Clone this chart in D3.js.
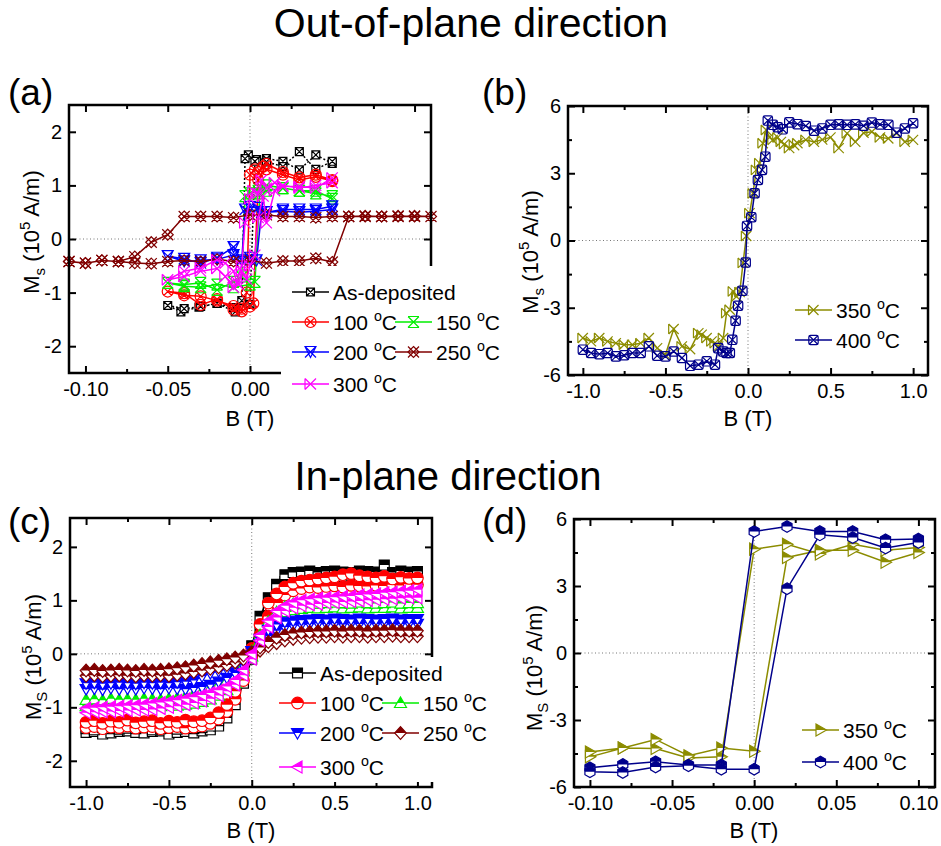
<!DOCTYPE html>
<html>
<head>
<meta charset="UTF-8">
<title>Ms vs B</title>
<script src="https://d3js.org/d3.v7.min.js"></script>
<style>
  body { margin: 0; background: #fff; }
  svg { display: block; background: #fff; font-family: "Liberation Sans", Arial, Helvetica, sans-serif; }
</style>
</head>
<body>
<svg width="941" height="846"></svg>
<script>
// ---------- data : (a) out-of-plane, +-0.1 T ----------
const aDepB = [0.05,0.04,0.03,0.02,0.01,0.004,-0.001,-0.003,-0.005,-0.009,-0.02,-0.031,-0.042,-0.05,-0.04,-0.03,-0.02,-0.01,0.0,0.003,0.01,0.02,0.03,0.04,0.05];
const aDepM = [1.41,1.57,1.29,1.45,1.50,1.48,1.57,1.50,-1.15,-1.36,-1.20,-1.27,-1.36,-1.24,-1.30,-1.26,-1.20,-1.28,-1.22,1.45,1.44,1.35,1.63,1.30,1.45];
const a100B = [0.05,0.04,0.03,0.02,0.01,0.008,0.005,0.003,0.0,-0.002,-0.005,-0.01,-0.02,-0.03,-0.04,-0.05,-0.04,-0.03,-0.02,-0.01,-0.005,0.0,0.002,0.005,0.01,0.02,0.03,0.04,0.05];
const a100M = [1.08,1.16,1.10,1.20,1.30,1.35,1.25,1.30,1.20,-1.00,-1.30,-1.32,-1.12,-1.23,-1.01,-0.98,-1.05,-1.07,-1.15,-1.25,-1.35,-1.26,-1.20,1.10,1.40,1.25,1.15,1.20,1.10];
const a150B = [0.05,0.04,0.03,0.02,0.01,0.005,0.0,-0.003,-0.005,-0.01,-0.02,-0.03,-0.04,-0.05,-0.04,-0.03,-0.02,-0.01,0.0,0.003,0.006,0.01,0.02,0.03,0.04,0.05];
const a150M = [0.80,0.85,0.90,0.95,1.00,0.90,0.85,0.80,-0.70,-0.80,-0.95,-0.82,-0.85,-0.82,-0.88,-0.90,-0.85,-0.90,-0.85,-0.80,0.85,0.90,0.95,0.90,0.90,0.75];
const a200B = [0.05,0.04,0.03,0.02,0.01,0.005,0.0,-0.003,-0.005,-0.01,-0.02,-0.03,-0.04,-0.05,-0.04,-0.03,-0.02,-0.01,0.0,0.004,0.007,0.01,0.02,0.03,0.04,0.05];
const a200M = [0.61,0.55,0.55,0.55,0.50,0.58,0.60,0.55,-0.40,-0.15,-0.35,-0.45,-0.37,-0.32,-0.42,-0.40,-0.38,-0.30,-0.35,-0.40,0.50,0.50,0.52,0.50,0.52,0.55];
const a250B = [-0.11,-0.10,-0.09,-0.08,-0.07,-0.06,-0.05,-0.04,-0.03,-0.02,-0.01,0.0,0.01,0.02,0.03,0.04,0.05,0.06,0.07,0.08,0.09,0.10,0.11,
               0.10,0.09,0.08,0.07,0.06,0.05,0.04,0.03,0.02,0.01,0.0,-0.01,-0.02,-0.03,-0.04,-0.05,-0.06,-0.07,-0.08,-0.09,-0.10,-0.11];
const a250M = [-0.42,-0.45,-0.40,-0.42,-0.33,-0.06,0.08,0.42,0.42,0.42,0.40,0.45,0.45,0.42,0.42,0.40,0.42,0.42,0.43,0.42,0.42,0.43,0.42,
               0.42,0.43,0.42,0.42,0.42,-0.43,-0.36,-0.41,-0.41,-0.45,-0.40,-0.42,-0.38,-0.42,-0.40,-0.42,-0.46,-0.45,-0.42,-0.40,-0.45,-0.42];
const a300B = [0.05,0.04,0.03,0.02,0.015,0.01,0.007,0.005,0.002,0.0,-0.003,-0.005,-0.008,-0.01,-0.015,-0.02,-0.03,-0.04,-0.05,
               -0.04,-0.03,-0.02,-0.015,-0.01,-0.007,-0.005,-0.002,0.0,0.003,0.005,0.008,0.01,0.015,0.02,0.03,0.04,0.05];
const a300M = [1.14,0.95,0.98,0.98,1.05,0.95,1.10,0.85,0.90,0.75,0.30,-0.50,-0.80,-0.60,-0.45,-0.39,-0.54,-0.60,-0.76,
               -0.70,-0.60,-0.55,-0.70,-0.90,-0.85,-0.60,-0.75,-0.50,-0.30,0.40,0.80,0.30,0.90,1.00,0.95,1.00,1.05];

// ---------- data : (b) out-of-plane, +-1 T ----------
const b350B = [-1.0,-0.95,-0.9,-0.85,-0.8,-0.75,-0.7,-0.65,-0.6,-0.55,-0.5,-0.45,-0.4,-0.35,-0.3,-0.28,-0.25,-0.22,-0.2,-0.18,-0.15,-0.13,-0.11,-0.09,-0.07,-0.05,-0.03,-0.01,
               0.01,0.03,0.05,0.07,0.09,0.11,0.13,0.15,0.18,0.2,0.22,0.25,0.28,0.3,0.35,0.4,0.45,0.5,0.55,0.6,0.65,0.7,0.75,0.8,0.85,0.9,0.95,1.0];
const b350M = [-4.35,-4.50,-4.35,-4.50,-4.58,-4.65,-4.65,-4.58,-4.35,-4.80,-5.10,-3.95,-4.72,-4.85,-4.13,-4.20,-4.35,-4.50,-4.58,-4.72,-4.35,-3.24,-3.09,-2.27,-2.50,-2.30,-1.00,0.20,
               1.22,2.10,3.15,3.45,4.34,4.93,4.60,4.49,4.60,4.40,4.30,4.12,4.25,4.34,4.49,4.40,4.50,4.60,4.12,4.78,4.40,4.80,4.85,4.60,4.55,4.78,4.40,4.49];
const b400B = [-1.0,-0.95,-0.9,-0.85,-0.8,-0.75,-0.7,-0.65,-0.6,-0.55,-0.5,-0.45,-0.4,-0.35,-0.3,-0.25,-0.2,-0.18,-0.15,-0.13,-0.11,-0.095,-0.075,-0.06,-0.034,-0.014,-0.006,
               0.02,0.04,0.06,0.085,0.105,0.12,0.15,0.18,0.21,0.25,0.3,0.35,0.4,0.45,0.5,0.55,0.6,0.65,0.7,0.75,0.8,0.85,0.9,0.95,1.0];
const b400M = [-4.87,-5.02,-5.07,-5.02,-5.17,-5.12,-5.02,-5.02,-4.72,-5.14,-5.17,-4.95,-5.24,-5.59,-5.54,-5.39,-5.54,-4.80,-4.95,-5.02,-5.02,-4.43,-3.58,-2.91,-2.24,-0.98,0.65,
               1.04,2.11,2.70,3.15,3.74,5.35,5.16,5.05,4.96,5.27,5.19,5.11,4.90,5.00,5.16,5.18,5.16,5.18,5.12,5.26,5.18,5.16,4.81,5.00,5.23];

// ---------- data : (c) in-plane, +-1 T (two branches per sample) ----------
const cB = [-1.0,-0.95,-0.9,-0.85,-0.8,-0.75,-0.7,-0.65,-0.6,-0.55,-0.5,-0.45,-0.4,-0.35,-0.3,-0.25,-0.2,-0.15,-0.1,-0.05,0,
            0.05,0.1,0.15,0.2,0.25,0.3,0.35,0.4,0.45,0.5,0.55,0.6,0.65,0.7,0.75,0.8,0.85,0.9,0.95,1.0];
const cDepUp   = [-1.47,-1.45,-1.50,-1.48,-1.45,-1.44,-1.47,-1.48,-1.45,-1.44,-1.50,-1.47,-1.45,-1.48,-1.44,-1.42,-1.35,-1.20,-0.95,-0.55,-0.10,0.45,0.90,1.15,1.35,1.42,1.45,1.43,1.45,1.46,1.44,1.45,1.47,1.45,1.44,1.46,1.45,1.44,1.46,1.43,1.45];
const cDepDown = [-1.40,-1.42,-1.38,-1.40,-1.41,-1.39,-1.40,-1.38,-1.42,-1.40,-1.39,-1.41,-1.38,-1.40,-1.38,-1.35,-1.25,-1.05,-0.75,-0.35,0.15,0.70,1.05,1.30,1.48,1.52,1.53,1.55,1.52,1.54,1.55,1.53,1.52,1.55,1.54,1.53,1.66,1.52,1.55,1.53,1.54];
const c100Up   = [-1.38,-1.36,-1.40,-1.37,-1.38,-1.35,-1.39,-1.37,-1.36,-1.40,-1.38,-1.36,-1.39,-1.37,-1.35,-1.30,-1.22,-1.08,-0.85,-0.50,-0.05,0.35,0.70,0.95,1.10,1.18,1.22,1.25,1.24,1.26,1.27,1.25,1.28,1.27,1.26,1.28,1.27,1.29,1.28,1.30,1.29];
const c100Down = [-1.28,-1.25,-1.30,-1.26,-1.28,-1.24,-1.29,-1.27,-1.25,-1.30,-1.26,-1.28,-1.24,-1.27,-1.25,-1.20,-1.10,-0.95,-0.70,-0.35,0.10,0.55,0.95,1.12,1.25,1.32,1.36,1.38,1.40,1.42,1.44,1.48,1.50,1.46,1.44,1.42,1.45,1.40,1.43,1.41,1.42];
const c150Up   = [-0.98,-0.97,-0.99,-0.96,-0.98,-0.97,-0.99,-0.96,-0.97,-0.98,-0.96,-0.97,-0.95,-0.93,-0.90,-0.85,-0.78,-0.68,-0.55,-0.33,-0.05,0.25,0.50,0.68,0.78,0.82,0.84,0.86,0.85,0.86,0.87,0.85,0.86,0.87,0.85,0.86,0.86,0.87,0.85,0.86,0.86];
const c150Down = [-0.86,-0.85,-0.87,-0.84,-0.86,-0.85,-0.86,-0.84,-0.85,-0.86,-0.84,-0.83,-0.80,-0.76,-0.70,-0.64,-0.58,-0.50,-0.40,-0.22,0.05,0.35,0.60,0.78,0.88,0.93,0.95,0.96,0.94,0.95,0.96,0.95,0.94,0.96,0.95,0.94,0.95,0.96,0.94,0.95,0.95];
const c200Up   = [-0.66,-0.65,-0.67,-0.64,-0.66,-0.65,-0.66,-0.64,-0.65,-0.66,-0.64,-0.65,-0.66,-0.64,-0.62,-0.58,-0.52,-0.45,-0.36,-0.22,-0.03,0.18,0.33,0.43,0.50,0.53,0.55,0.56,0.57,0.56,0.57,0.55,0.57,0.56,0.57,0.56,0.57,0.55,0.56,0.57,0.56];
const c200Down = [-0.55,-0.54,-0.56,-0.55,-0.54,-0.55,-0.56,-0.54,-0.55,-0.54,-0.55,-0.53,-0.52,-0.50,-0.42,-0.36,-0.32,-0.28,-0.22,-0.12,0.05,0.28,0.45,0.55,0.60,0.62,0.63,0.64,0.65,0.64,0.66,0.65,0.64,0.66,0.65,0.64,0.65,0.66,0.64,0.65,0.65];
const c250Up   = [-0.41,-0.40,-0.42,-0.41,-0.40,-0.41,-0.42,-0.40,-0.41,-0.40,-0.41,-0.39,-0.37,-0.34,-0.31,-0.28,-0.25,-0.21,-0.16,-0.10,-0.03,0.06,0.14,0.20,0.25,0.28,0.30,0.31,0.32,0.32,0.33,0.32,0.33,0.33,0.32,0.33,0.33,0.34,0.33,0.33,0.33];
const c250Down = [-0.31,-0.30,-0.32,-0.31,-0.30,-0.31,-0.32,-0.30,-0.31,-0.30,-0.29,-0.27,-0.25,-0.22,-0.19,-0.16,-0.13,-0.10,-0.07,-0.03,0.03,0.12,0.22,0.30,0.35,0.38,0.40,0.41,0.42,0.42,0.43,0.42,0.43,0.43,0.42,0.43,0.43,0.44,0.43,0.43,0.43];
const c300Up   = [-1.10,-1.09,-1.08,-1.08,-1.07,-1.06,-1.05,-1.05,-1.04,-1.02,-1.00,-0.98,-0.95,-0.92,-0.88,-0.84,-0.78,-0.70,-0.58,-0.40,-0.10,0.25,0.50,0.68,0.80,0.86,0.90,0.92,0.93,0.95,0.96,0.97,0.98,0.99,1.00,1.01,1.02,1.03,1.04,1.05,1.05];
const c300Down = [-1.02,-1.01,-1.00,-0.99,-0.98,-0.97,-0.96,-0.95,-0.93,-0.91,-0.89,-0.87,-0.84,-0.81,-0.77,-0.73,-0.68,-0.61,-0.49,-0.30,0.00,0.35,0.62,0.80,0.90,0.96,1.00,1.02,1.04,1.05,1.06,1.07,1.08,1.10,1.11,1.12,1.14,1.15,1.17,1.18,1.20];

// ---------- data : (d) in-plane, +-0.1 T ----------
const dB    = [0.10,0.08,0.06,0.04,0.02,0.00,-0.02,-0.04,-0.06,-0.08,-0.10,-0.10,-0.08,-0.06,-0.04,-0.02,0.00,0.02,0.04,0.06,0.08,0.10];
const d350M = [4.72,4.60,4.87,4.43,4.87,4.65,-4.65,-4.70,-4.28,-4.25,-4.65,-4.43,-4.25,-3.87,-4.60,-4.25,-4.40,4.28,4.60,4.60,4.06,4.50];
const d400M = [5.10,5.07,5.44,5.44,5.66,5.44,-5.02,-5.02,-4.87,-4.99,-5.14,-5.32,-5.35,-5.10,-5.05,-5.20,-5.20,2.88,5.29,5.17,4.70,4.95];

// ---------- tick values ----------
const smallBTicks = [-0.1, -0.05, 0, 0.05, 0.1];
const smallBMinor = [-0.075, -0.025, 0.025, 0.075];
const aBLabels = [-0.1, -0.05, 0];   // (a): the legend hides 0.05 and 0.10
const bigBTicks = [-1, -0.5, 0, 0.5, 1];
const bigBMinor = [-0.75, -0.25, 0.25, 0.75];
const ms2Ticks = [-2, -1, 0, 1, 2];
const ms6Ticks = [-6, -3, 0, 3, 6];
const ms6Minor = [-4.5, -1.5, 1.5, 4.5];

const svg = d3.select("svg");
const FONT = '"Liberation Sans", Arial, Helvetica, sans-serif';

svg.append("defs").append("clipPath").attr("id", "tophalf")
  .append("rect").attr("x", -20).attr("y", -20).attr("width", 40).attr("height", 20);

// marker shapes, centred on 0,0
function symPath(t, r) {
  const k = r * 0.72;
  const X = `M${-k},${-k}L${k},${k}M${k},${-k}L${-k},${k}`;
  const circ = rr => `M${rr},0A${rr},${rr} 0 1,1 ${-rr},0A${rr},${rr} 0 1,1 ${rr},0Z`;
  switch (t) {
    case "sq": return `M${-r*0.9},${-r*0.9}H${r*0.9}V${r*0.9}H${-r*0.9}Z`;
    case "ci": return circ(r);
    case "tu": return `M0,${-r}L${r},${r*0.75}H${-r}Z`;
    case "td": return `M0,${r}L${r},${-r*0.75}H${-r}Z`;
    case "tl": return `M${-r},0L${r*0.75},${-r}V${r}Z`;
    case "tr": return `M${r},0L${-r*0.75},${-r}V${r}Z`;
    case "di": return `M0,${-r*1.1}L${r},0L0,${r*1.1}L${-r},0Z`;
    case "hx": return d3.range(6).map((i) => {
        const a = Math.PI / 3 * i - Math.PI / 2;
        return (i ? "L" : "M") + (r * Math.cos(a)).toFixed(2) + "," + (r * Math.sin(a)).toFixed(2);
      }).join("") + "Z";
    case "sqx": return `M${-k},${-k}H${k}V${k}H${-k}Z` + X;
    case "cx": return circ(r) + X;
    case "hg": return `M${-r},${-r}L${r},${r}M${r},${-r}L${-r},${r}M${-r},${-r}H${r}M${-r},${r}H${r}`;
    case "tdx": return `M${-r},${-r}H${r}L0,${r}Z` + `M${-r},${-r}L${r},${r}M${r},${-r}L${-r},${r}`;
    case "dx": return `M0,${-r}L${r},0L0,${r}L${-r},0Z` + `M${-r},${-r}L${r},${r}M${r},${-r}L${-r},${r}`;
    case "bx": return `M${-r},${-r}L${r},${r}M${r},${-r}L${-r},${r}M${-r},${-r}V${r}`;
    case "rsx": {
      const q = r * 0.85, c = r * 0.3;
      return `M${-q + c},${-q}H${q - c}Q${q},${-q} ${q},${-q + c}V${q - c}Q${q},${q} ${q - c},${q}H${-q + c}Q${-q},${q} ${-q},${q - c}V${-q + c}Q${-q},${-q} ${-q + c},${-q}Z` + X;
    }
  }
}

function marker(g, cx, cy, s) {
  const m = g.append("g").attr("transform", `translate(${cx},${cy})`);
  const d = symPath(s.sym, s.r);
  if (s.half) {
    m.append("path").attr("d", d).attr("fill", "#fff").attr("stroke", s.color).attr("stroke-width", 1.2);
    m.append("path").attr("d", d).attr("fill", s.color).attr("clip-path", "url(#tophalf)");
  } else {
    m.append("path").attr("d", d).attr("fill", s.fill || "none").attr("stroke", s.color).attr("stroke-width", 1.2);
  }
}

function drawPath(p, B, M, s) {
  const pts = d3.zip(B, M);
  const line = d3.line().x(d => p.x(d[0])).y(d => p.y(d[1]));
  p.data.append("path").attr("d", line(pts)).attr("fill", "none")
    .attr("stroke", s.color).attr("stroke-width", 1.5).attr("stroke-dasharray", s.dash || null);
  pts.forEach(d => marker(p.data, p.x(d[0]), p.y(d[1]), s));
}

function degText(t, name) {
  const m = name.match(/^(\d+) °C$/);
  if (!m) { t.text(name); return; }
  t.append("tspan").text(m[1] + " ");
  t.append("tspan").attr("dy", -9).attr("font-size", "0.68em").text("o");
  t.append("tspan").attr("dy", 9).text("C");
}

function panel(P, xt, xl, xm, yt, ym, xf) {
  const g = svg.append("g");
  const x = d3.scaleLinear().domain(P.xd).range([P.x0, P.x1]);
  const y = d3.scaleLinear().domain(P.yd).range([P.y1, P.y0]);
  const zero = g.append("g").attr("stroke", "#777").attr("stroke-width", 1).attr("stroke-dasharray", "1,2.5");
  zero.append("line").attr("x1", P.x0).attr("x2", P.x1).attr("y1", y(0)).attr("y2", y(0));
  zero.append("line").attr("x1", x(0)).attr("x2", x(0)).attr("y1", P.y0).attr("y2", P.y1);
  const data = g.append("g");
  const axes = g.append("g");
  const ax = (gen, tr) => axes.append("g").attr("transform", tr).call(gen)
    .attr("font-size", 20).attr("font-family", FONT)
    .call(s => s.select(".domain").remove())
    .call(s => s.selectAll(".tick line").attr("stroke-width", 2))
    .call(s => s.selectAll(".tick text").attr("fill", "#000"));
  ax(d3.axisBottom(x).tickValues(xt).tickFormat("").tickSize(-7), `translate(0,${P.y1})`);
  ax(d3.axisBottom(x).tickValues(xl).tickFormat(xf).tickSize(0).tickPadding(9), `translate(0,${P.y1})`);
  ax(d3.axisBottom(x).tickValues(xm).tickFormat("").tickSize(-4), `translate(0,${P.y1})`);
  ax(d3.axisTop(x).tickValues(xt).tickFormat("").tickSize(-7), `translate(0,${P.y0})`);
  ax(d3.axisTop(x).tickValues(xm).tickFormat("").tickSize(-4), `translate(0,${P.y0})`);
  ax(d3.axisLeft(y).tickValues(yt).tickFormat(d => String(d)).tickSize(-7).tickPadding(7), `translate(${P.x0},0)`);
  ax(d3.axisLeft(y).tickValues(ym).tickFormat("").tickSize(-4), `translate(${P.x0},0)`);
  ax(d3.axisRight(y).tickValues(yt).tickFormat("").tickSize(-7), `translate(${P.x1},0)`);
  ax(d3.axisRight(y).tickValues(ym).tickFormat("").tickSize(-4), `translate(${P.x1},0)`);
  axes.append("rect").attr("x", P.x0).attr("y", P.y0).attr("width", P.x1 - P.x0).attr("height", P.y1 - P.y0)
    .attr("fill", "none").attr("stroke", "#000").attr("stroke-width", 2.5);
  const top = svg.append("g");
  return { x, y, data, top };
}

function legend(p, items, box) {
  if (box) p.top.append("rect").attr("x", box[0]).attr("y", box[1]).attr("width", box[2]).attr("height", box[3]).attr("fill", "#fff");
  items.forEach(it => {
    p.top.append("line").attr("x1", it.x).attr("x2", it.x + 37).attr("y1", it.y).attr("y2", it.y)
      .attr("stroke", it.s.color).attr("stroke-width", 1.6);
    marker(p.top, it.x + 18.5, it.y, it.s);
    const t = p.top.append("text").attr("x", it.x + 41).attr("y", it.y + 7.5).attr("font-size", 21);
    degText(t, it.s.name);
  });
}

function yTitle(cx, cy, sub) {
  const t = svg.append("text").attr("transform", `translate(${cx + 8},${cy}) rotate(-90)`)
    .attr("text-anchor", "middle").attr("font-size", 22);
  t.append("tspan").text("M");
  t.append("tspan").attr("dy", 6).attr("font-size", 15).text(sub);
  t.append("tspan").attr("dy", -6).text(" (10");
  t.append("tspan").attr("dy", -9).attr("font-size", 15).text("5");
  t.append("tspan").attr("dy", 9).text(" A/m)");
}
function xTitle(cx, y) {
  svg.append("text").attr("x", cx).attr("y", y).attr("text-anchor", "middle").attr("font-size", 22).text("B (T)");
}

// ---------- titles ----------
svg.append("text").attr("x", 471).attr("y", 37).attr("text-anchor", "middle").attr("font-size", 41).text("Out-of-plane direction");
svg.append("text").attr("x", 448).attr("y", 490).attr("text-anchor", "middle").attr("font-size", 40).text("In-plane direction");
[["(a)", 8, 105], ["(b)", 482, 105], ["(c)", 8, 534], ["(d)", 482, 534]].forEach(([s, x, y]) =>
  svg.append("text").attr("x", x).attr("y", y).attr("font-size", 37).text(s));

// ---------- (a) ----------
const pa = panel({ x0: 69, x1: 431, y0: 105, y1: 373, xd: [-0.11, 0.11], yd: [-2.5, 2.5] },
  smallBTicks, aBLabels, smallBMinor, ms2Ticks, [], d => d.toFixed(2));
const aSeries = [
  { name: "As-deposited", B: aDepB, M: aDepM, color: "#000000", sym: "sqx", r: 5.5, fill: "#fff", dash: "2,2" },
  { name: "100 °C", B: a100B, M: a100M, color: "#ff0000", sym: "cx", r: 5.5 },
  { name: "150 °C", B: a150B, M: a150M, color: "#00ee00", sym: "hg", r: 5.5 },
  { name: "200 °C", B: a200B, M: a200M, color: "#0000ff", sym: "tdx", r: 5.5 },
  { name: "250 °C", B: a250B, M: a250M, color: "#800000", sym: "dx", r: 5.5 },
  { name: "300 °C", B: a300B, M: a300M, color: "#ff00ff", sym: "bx", r: 5.5 }
];
aSeries.forEach(s => drawPath(pa, s.B, s.M, s));
legend(pa, [
  { s: aSeries[0], x: 292, y: 292 },
  { s: aSeries[1], x: 292, y: 322 }, { s: aSeries[2], x: 395, y: 322 },
  { s: aSeries[3], x: 292, y: 352 }, { s: aSeries[4], x: 395, y: 352 },
  { s: aSeries[5], x: 292, y: 384 }
], [281, 266, 195, 136]);
yTitle(31, 232, "s");
xTitle(250, 426);

// ---------- (b) ----------
const pb = panel({ x0: 568, x1: 928, y0: 106, y1: 375, xd: [-1.09, 1.09], yd: [-6, 6] },
  bigBTicks, bigBTicks, bigBMinor, ms6Ticks, ms6Minor, d => d.toFixed(1));
const bSeries = [
  { name: "350 °C", B: b350B, M: b350M, color: "#8c8c00", sym: "bx", r: 5 },
  { name: "400 °C", B: b400B, M: b400M, color: "#00008b", sym: "rsx", r: 5.5 }
];
bSeries.forEach(s => drawPath(pb, s.B, s.M, s));
legend(pb, [{ s: bSeries[0], x: 795, y: 310 }, { s: bSeries[1], x: 795, y: 340 }]);
yTitle(530, 252, "s");
xTitle(748, 426);

// ---------- (c) ----------
const pc = panel({ x0: 70, x1: 432, y0: 518, y1: 787, xd: [-1.097, 1.088], yd: [-2.49, 2.54] },
  bigBTicks, bigBTicks, bigBMinor, ms2Ticks, [], d => d.toFixed(1));
const cSeries = [
  { name: "As-deposited", up: cDepUp, down: cDepDown, color: "#000000", sym: "sq", r: 5.5, half: true },
  { name: "100 °C", up: c100Up, down: c100Down, color: "#ff0000", sym: "ci", r: 5.8, half: true },
  { name: "150 °C", up: c150Up, down: c150Down, color: "#00ee00", sym: "tu", r: 6, half: true },
  { name: "200 °C", up: c200Up, down: c200Down, color: "#0000ff", sym: "td", r: 6, half: true },
  { name: "250 °C", up: c250Up, down: c250Down, color: "#800000", sym: "di", r: 5.8, half: true },
  { name: "300 °C", up: c300Up, down: c300Down, color: "#ff00ff", sym: "tl", r: 6, half: true }
];
cSeries.forEach(s => { drawPath(pc, cB, s.up, s); drawPath(pc, cB, s.down, s); });
legend(pc, [
  { s: cSeries[0], x: 279, y: 673 },
  { s: cSeries[1], x: 279, y: 703 }, { s: cSeries[2], x: 382, y: 703 },
  { s: cSeries[3], x: 279, y: 733 }, { s: cSeries[4], x: 382, y: 733 },
  { s: cSeries[5], x: 279, y: 767 }
], [274, 657, 218, 125]);
yTitle(33, 657, "S");
xTitle(251, 838);

// ---------- (d) ----------
const pd = panel({ x0: 574, x1: 935, y0: 519, y1: 787, xd: [-0.1097, 0.1101], yd: [-6, 6] },
  smallBTicks, smallBTicks, smallBMinor, ms6Ticks, ms6Minor, d => d.toFixed(2));
const dSeries = [
  { name: "350 °C", M: d350M, color: "#8c8c00", sym: "tr", r: 6, half: true },
  { name: "400 °C", M: d400M, color: "#00008b", sym: "hx", r: 5.8, half: true }
];
dSeries.forEach(s => drawPath(pd, dB, s.M, s));
legend(pd, [{ s: dSeries[0], x: 802, y: 730 }, { s: dSeries[1], x: 802, y: 762 }]);
yTitle(534, 668, "S");
xTitle(754, 838);
</script>
</body>
</html>
